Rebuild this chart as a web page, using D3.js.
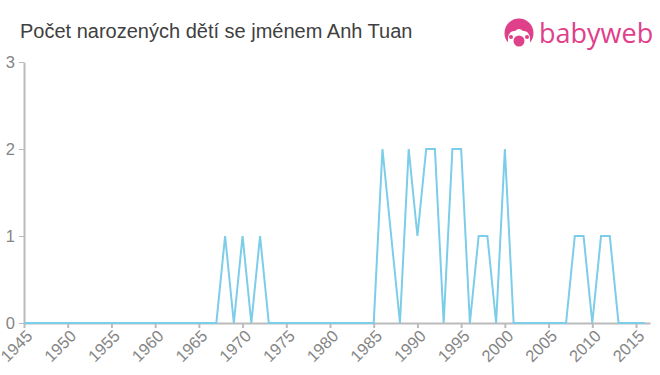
<!DOCTYPE html>
<html>
<head>
<meta charset="utf-8">
<script src="https://cdn.jsdelivr.net/npm/d3@7"></script>
<style>
  body { margin: 0; background: #fff; }
  svg { font-family: "Liberation Sans", Arial, sans-serif; }
</style>
</head>
<body>
<div id="chart"></div>
<script>
var years = [1945, 1946, 1947, 1948, 1949, 1950, 1951, 1952, 1953, 1954, 1955, 1956, 1957, 1958, 1959,
  1960, 1961, 1962, 1963, 1964, 1965, 1966, 1967, 1968, 1969, 1970, 1971, 1972, 1973, 1974,
  1975, 1976, 1977, 1978, 1979, 1980, 1981, 1982, 1983, 1984, 1985, 1986, 1987, 1988, 1989,
  1990, 1991, 1992, 1993, 1994, 1995, 1996, 1997, 1998, 1999, 2000, 2001, 2002, 2003, 2004,
  2005, 2006, 2007, 2008, 2009, 2010, 2011, 2012, 2013, 2014, 2015, 2016];
var counts = [0, 0, 0, 0, 0, 0, 0, 0, 0, 0, 0, 0, 0, 0, 0,
  0, 0, 0, 0, 0, 0, 0, 0, 1, 0, 1, 0, 1, 0, 0,
  0, 0, 0, 0, 0, 0, 0, 0, 0, 0, 0, 2, 1, 0, 2,
  1, 2, 2, 0, 2, 2, 0, 1, 1, 0, 2, 0, 0, 0, 0,
  0, 0, 0, 1, 1, 0, 1, 1, 0, 0, 0, 0];
var xTicks = [1945, 1950, 1955, 1960, 1965, 1970, 1975, 1980, 1985, 1990, 1995, 2000, 2005, 2010, 2015];
var yTicks = [0, 1, 2, 3];

var width = 660, height = 375;
var margin = {top: 62, right: 10, bottom: 52, left: 24};

var svg = d3.select("#chart").append("svg")
    .attr("width", width)
    .attr("height", height);

var xScale = d3.scaleLinear()
    .domain([1945, 2016.6])
    .range([margin.left, width - margin.right]);

var yScale = d3.scaleLinear()
    .domain([0, 3])
    .range([height - margin.bottom, margin.top]);

// title
svg.append("text")
    .attr("x", 20)
    .attr("y", 38)
    .style("font-size", "20px")
    .style("fill", "#404040")
    .text("Počet narozených dětí se jménem Anh Tuan");

// logo
var pink = "#e0408a";
var logo = svg.append("g").attr("transform", "translate(519,33)");
logo.append("circle").attr("r", 14.5).attr("fill", pink);
logo.append("path")
    .attr("d", "M-11,4 Q-9,-3 -4,-2 Q0,-6 4,-2 Q9,-3 11,4 L11,16 L-11,16 Z")
    .attr("fill", "#fff");
logo.append("circle").attr("cx", 0).attr("cy", 8).attr("r", 5.5).attr("fill", pink);
logo.append("circle").attr("cx", -8).attr("cy", 4).attr("r", 2).attr("fill", pink);
logo.append("circle").attr("cx", 8).attr("cy", 4).attr("r", 2).attr("fill", pink);
svg.append("text")
    .attr("x", 539)
    .attr("y", 43)
    .style("font-size", "27px")
    .style("fill", pink)
    .style("font-family", "'Open Sans', sans-serif")
    .text("babyweb");

// axes
var xAxis = svg.append("g")
    .attr("transform", "translate(0," + yScale(0) + ")")
    .call(d3.axisBottom(xScale).tickValues(xTicks).tickFormat(d3.format("d")).tickSize(5).tickSizeOuter(0));
xAxis.select(".domain").attr("stroke", "#bbb").attr("stroke-width", 2);
xAxis.selectAll(".tick line").attr("stroke", "#bbb").attr("stroke-width", 2);
xAxis.selectAll("text")
    .attr("x", 0)
    .attr("y", 0)
    .attr("dy", "0.35em")
    .attr("text-anchor", "end")
    .attr("transform", "translate(5,10) rotate(-45)")
    .style("font-size", "16.5px")
    .style("fill", "#858585");

var yAxis = svg.append("g")
    .attr("transform", "translate(" + margin.left + ",0)")
    .call(d3.axisLeft(yScale).tickValues(yTicks).tickFormat(d3.format("d")).tickSize(5).tickSizeOuter(0));
yAxis.select(".domain").attr("stroke", "#bbb").attr("stroke-width", 2);
yAxis.selectAll(".tick line").attr("stroke", "#bbb").attr("stroke-width", 1);
yAxis.selectAll("text")
    .attr("x", -9)
    .style("font-size", "16.5px")
    .style("fill", "#858585");

// line
var line = d3.line()
    .x(function(d, i) { return xScale(years[i]); })
    .y(function(d) { return yScale(d); });

svg.append("path")
    .datum(counts)
    .attr("fill", "none")
    .attr("stroke", "#7ccde9")
    .attr("stroke-width", 2)
    .attr("d", line);
</script>
</body>
</html>
